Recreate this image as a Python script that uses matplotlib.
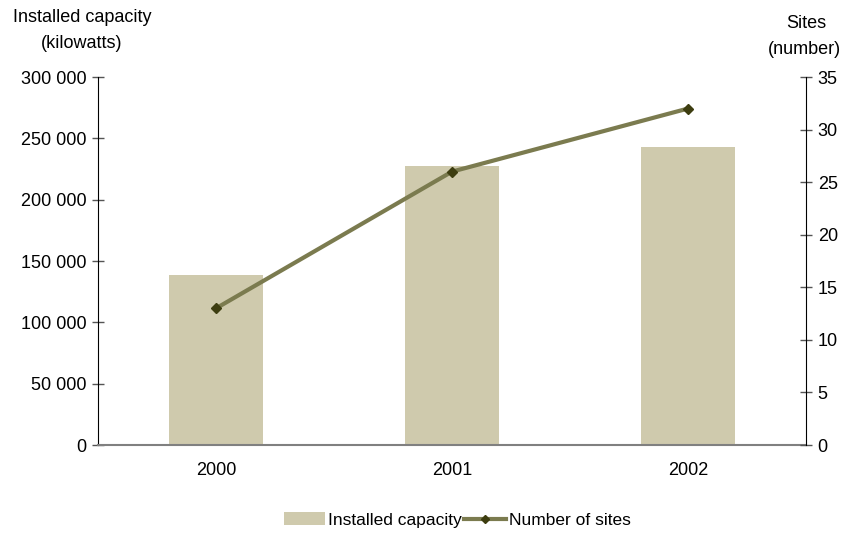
import matplotlib
matplotlib.use("Agg")
import matplotlib.pyplot as plt
from matplotlib.ticker import FuncFormatter

years = ["2000", "2001", "2002"]
capacity_kw = [138600, 227400, 242900]
sites = [13, 26, 32]

plt.rcParams["font.family"] = ["Liberation Sans", "DejaVu Sans"]

bar_color = "#cfcaad"
line_color = "#7b7b4f"
marker_color = "#3d3d10"

fig = plt.figure(figsize=(8.43, 5.33), dpi=100)
ax = fig.add_axes([0.1163, 0.1651, 0.8397, 0.6904])
x = list(range(len(years)))

bars = ax.bar(x, capacity_kw, width=0.4, color=bar_color, zorder=2,
              label="Installed capacity")
ax.set_xlim(-0.5, len(years) - 0.5)
ax.set_ylim(0, 300000)
ax.set_yticks(range(0, 300001, 50000))
ax.yaxis.set_major_formatter(FuncFormatter(lambda v, p: f"{int(v):,}".replace(",", " ")))
ax.set_xticks(x)
ax.set_xticklabels(years)
ax.tick_params(axis="x", length=0, pad=12, labelsize=13)
ax.tick_params(axis="y", direction="inout", length=9, width=1, color="#555555",
               labelsize=13, pad=4)

ax2 = ax.twinx()
line, = ax2.plot(x, sites, color=line_color, lw=3, marker="D", markersize=5,
                 markerfacecolor=marker_color, markeredgecolor=marker_color,
                 zorder=3, label="Number of sites")
ax2.set_ylim(0, 35)
ax2.set_yticks(range(0, 36, 5))
ax2.tick_params(axis="y", direction="inout", length=9, width=1, color="#555555",
                labelsize=13, pad=4)

for a in (ax, ax2):
    a.spines["top"].set_visible(False)
ax.spines["right"].set_visible(False)
ax2.spines["left"].set_visible(False)
ax2.spines["bottom"].set_visible(False)
ax.spines["left"].set_color("black")
ax2.spines["right"].set_color("black")
ax.spines["bottom"].set_color("#808080")
ax.spines["bottom"].set_linewidth(1.5)

fig.text(82 / 843, 1 - 18 / 533, "Installed capacity", ha="center", va="center", fontsize=13)
fig.text(82 / 843, 1 - 43 / 533, "(kilowatts)", ha="center", va="center", fontsize=13)
fig.text(806 / 843, 1 - 24 / 533, "Sites", ha="center", va="center", fontsize=13)
fig.text(804 / 843, 1 - 50 / 533, "(number)", ha="center", va="center", fontsize=13)

fig.legend(handles=[bars, line], loc="center", bbox_to_anchor=(457 / 843, 1 - 520 / 533),
           ncol=2, frameon=False, fontsize=12.5, handlelength=2.4, handletextpad=0.15,
           columnspacing=0.15, borderpad=0, markerscale=0.9)

fig.savefig("out.png", dpi=100)
